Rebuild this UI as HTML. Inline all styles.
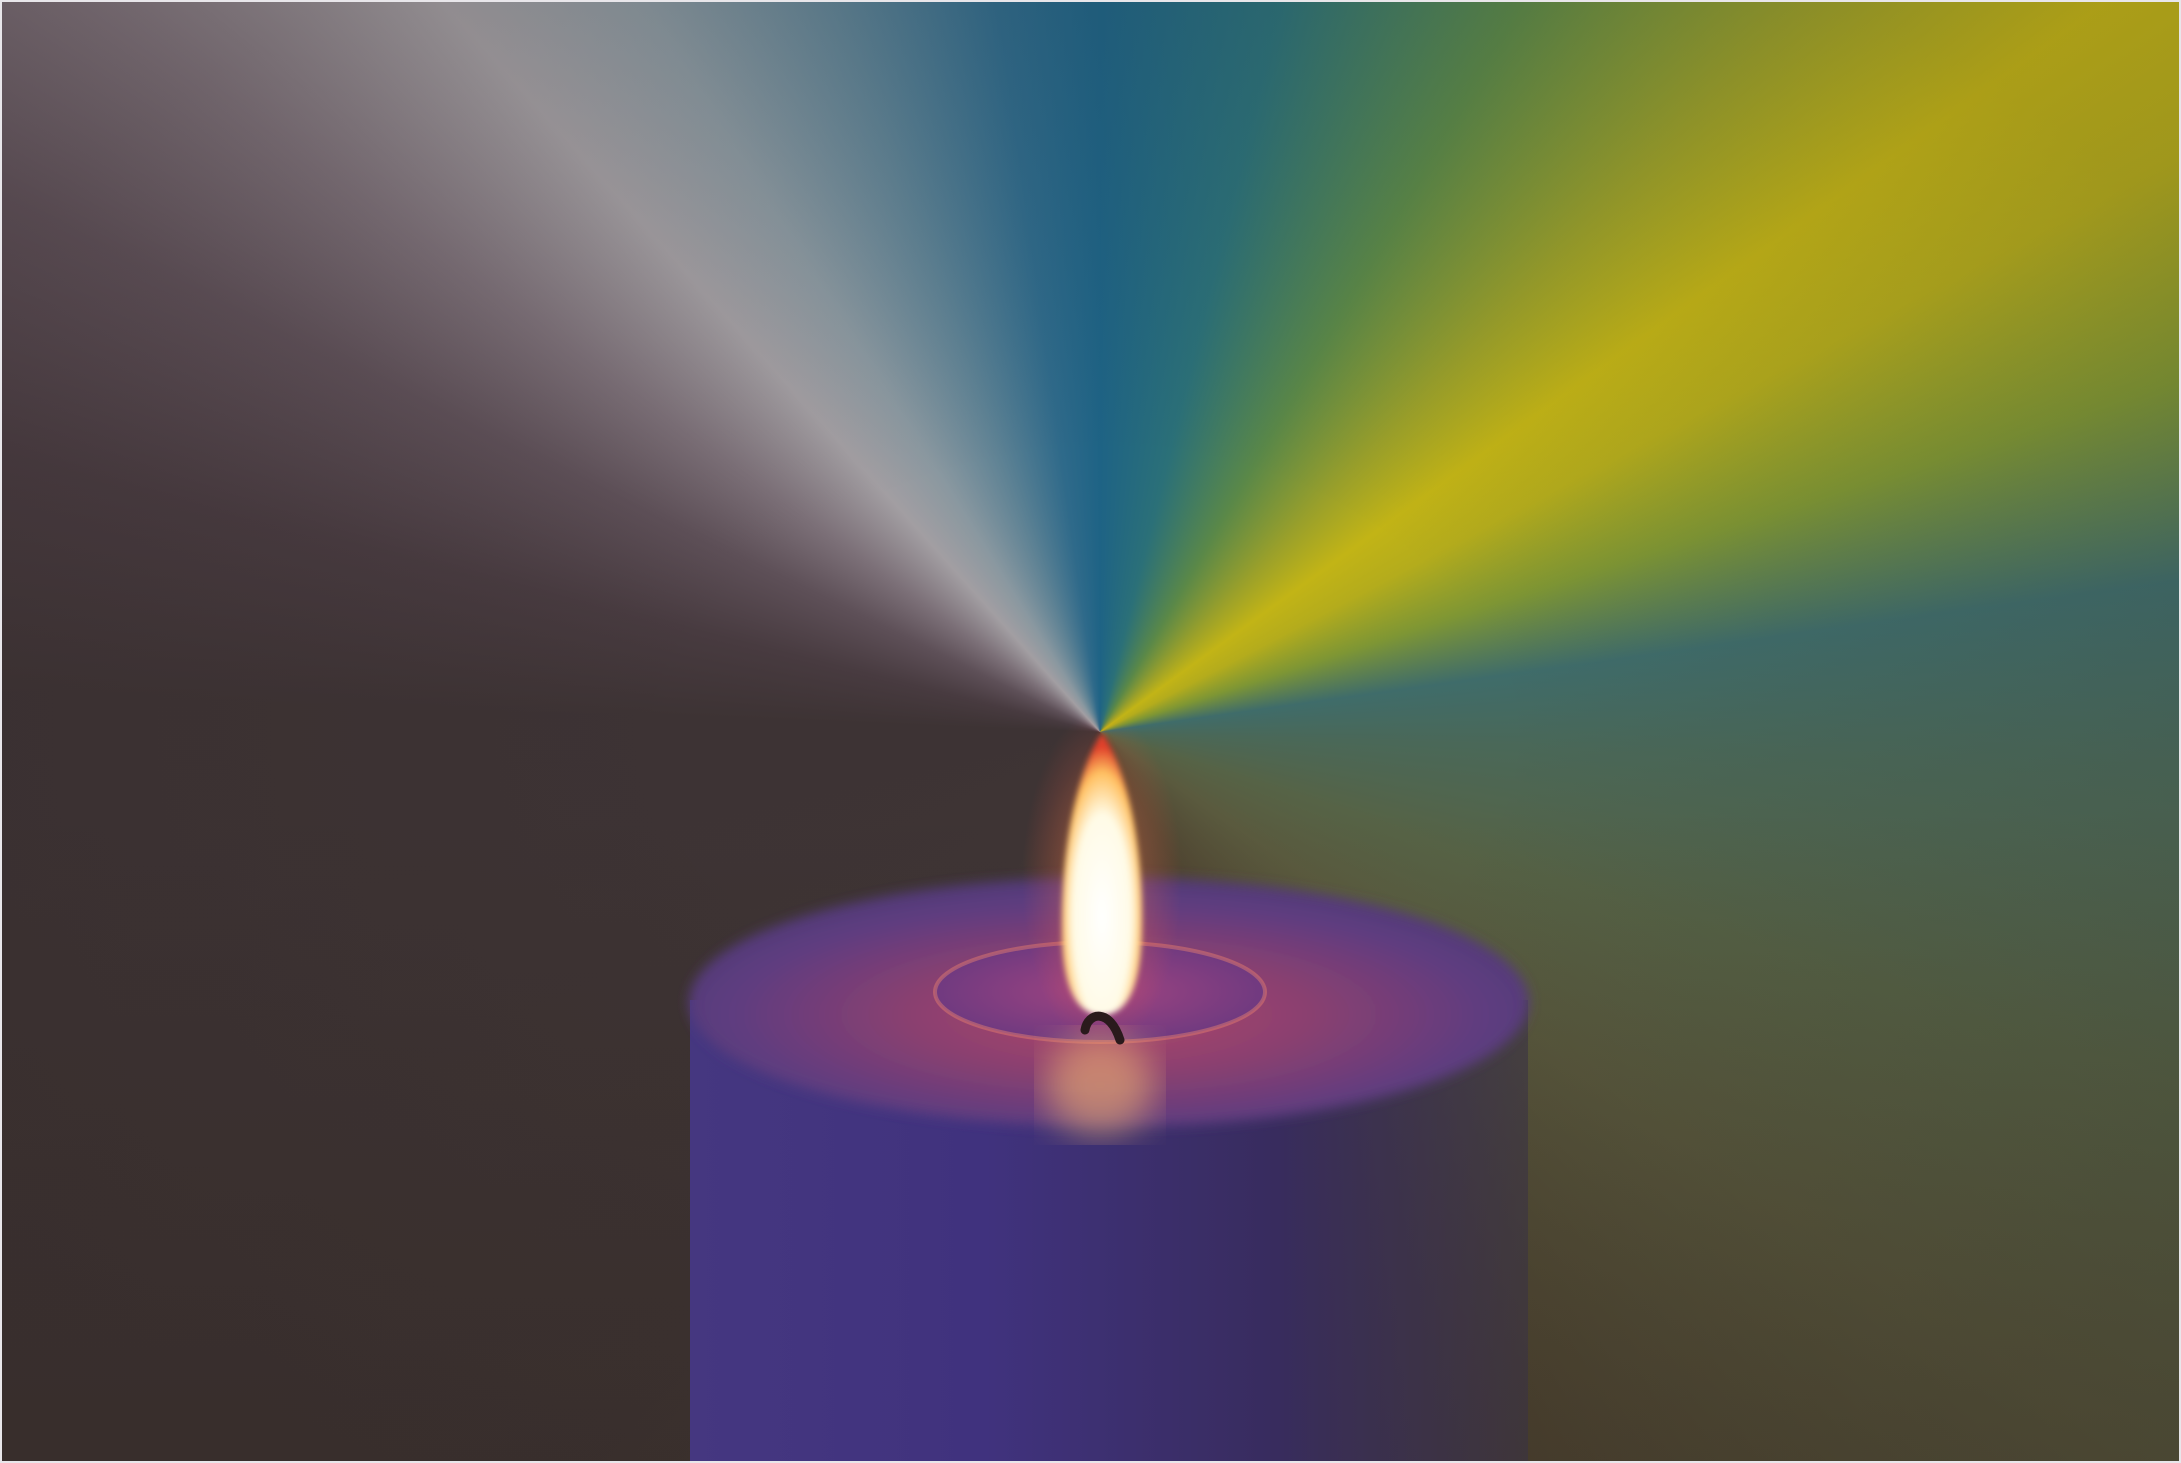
<!DOCTYPE html>
<html><head><meta charset="utf-8"><style>
html,body{margin:0;padding:0;width:2181px;height:1463px;overflow:hidden;background:#3e3334}
#bg{position:absolute;left:0;top:0;width:2181px;height:1463px;
background:conic-gradient(from 0deg at 1100px 732px,
#1e6385 0deg,#2b7078 14deg,#5a8848 30deg,#9aa02a 44deg,#c2b416 54deg,#b4ac1c 62deg,#7e9634 72deg,#3f6c6a 82deg,#4a6858 92deg,#566346 108deg,#5a5a3e 125deg,#504632 150deg,#463c34 180deg,#3e3434 215deg,#3d3334 272deg,#483b40 284deg,#5e5058 296deg,#7c7078 306deg,#a29ea2 318deg,#8a98a0 328deg,#5e8294 340deg,#2f6a8a 352deg,#1e6385 360deg);}
#fade{position:absolute;left:0;top:0;width:2181px;height:1463px;
background:radial-gradient(ellipse 1300px 900px at 1100px 732px,rgba(0,0,0,0) 30%,rgba(40,30,30,0.15) 100%),
linear-gradient(to bottom,rgba(0,0,0,0) 55%,rgba(50,40,30,0.25) 100%);}
svg{position:absolute;left:0;top:0}
</style></head><body>
<div id="bg"></div>
<div id="fade"></div>
<svg width="2181" height="1463" viewBox="0 0 2181 1463">
<defs>
<linearGradient id="body" x1="0" x2="1" y1="0" y2="0">
<stop offset="0" stop-color="#453780"/><stop offset="0.35" stop-color="#40327e"/><stop offset="0.7" stop-color="#382c5e"/><stop offset="1" stop-color="#3a3244" stop-opacity="0.6"/>
</linearGradient>
<radialGradient id="top" cx="0.5" cy="0.55" r="0.6">
<stop offset="0" stop-color="#b04868"/><stop offset="0.4" stop-color="#8a4070"/><stop offset="0.75" stop-color="#5e3c80"/><stop offset="1" stop-color="#4a3a72"/>
</radialGradient>
<radialGradient id="well" cx="0.5" cy="0.5" r="0.5">
<stop offset="0" stop-color="#a04480"/><stop offset="1" stop-color="#703a80"/>
</radialGradient>
<radialGradient id="flame" cx="0.5" cy="0.65" r="0.6">
<stop offset="0" stop-color="#ffffff"/><stop offset="0.6" stop-color="#fffbe6"/><stop offset="0.85" stop-color="#ffc060"/><stop offset="1" stop-color="#e0402a"/>
</radialGradient>
<radialGradient id="glow" cx="0.5" cy="0.5" r="0.5">
<stop offset="0" stop-color="#ff9050" stop-opacity="0.5"/><stop offset="1" stop-color="#ff5040" stop-opacity="0"/>
</radialGradient>
<filter id="blur"><feGaussianBlur stdDeviation="6"/></filter>
<filter id="blur2"><feGaussianBlur stdDeviation="3"/></filter>
<filter id="blur3"><feGaussianBlur stdDeviation="18"/></filter>
</defs>
<rect x="690" y="1000" width="838" height="470" fill="url(#body)"/>
<ellipse cx="1109" cy="1002" rx="420" ry="125" fill="url(#top)" filter="url(#blur)"/>
<ellipse cx="1100" cy="992" rx="165" ry="50" fill="url(#well)" stroke="#e07a70" stroke-width="4" stroke-opacity="0.5"/>
<ellipse cx="1100" cy="1085" rx="55" ry="50" fill="#f0b070" fill-opacity="0.6" filter="url(#blur3)"/>
<ellipse cx="1102" cy="880" rx="80" ry="170" fill="url(#glow)"/>
<path d="M1102 733 C1128 770 1144 850 1142 930 C1141 990 1126 1015 1102 1015 C1078 1015 1062 990 1062 930 C1061 850 1077 770 1102 733 Z" fill="url(#flame)" filter="url(#blur2)"/>
<path d="M1085 1030 C1088 1012 1110 1008 1120 1040" stroke="#2a1a1c" stroke-width="9" fill="none" stroke-linecap="round"/>
<rect x="1" y="1" width="2179" height="1461" fill="none" stroke="#e8e6ea" stroke-width="2"/>
</svg>
</body></html>
